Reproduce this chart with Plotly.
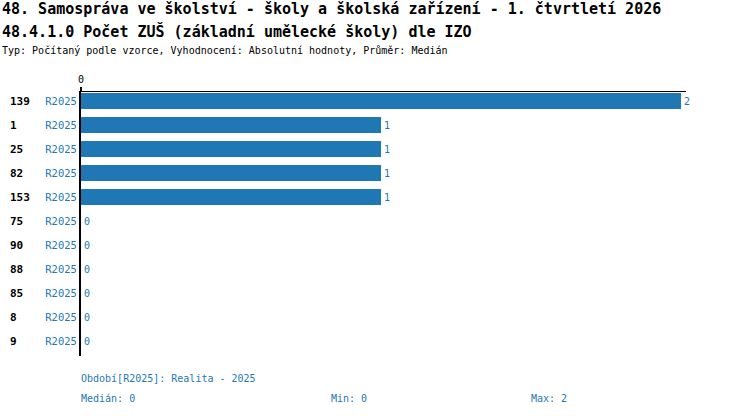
import plotly.graph_objects as go

# Data
izo = ["139", "1", "25", "82", "153", "75", "90", "88", "85", "8", "9"]
obdobi = ["R2025", "R2025", "R2025", "R2025", "R2025", "R2025",
          "R2025", "R2025", "R2025", "R2025", "R2025"]
hodnoty = [2, 1, 1, 1, 1, 0, 0, 0, 0, 0, 0]

nadpis1 = "48. Samospráva ve školství - školy a školská zařízení - 1. čtvrtletí 2026"
nadpis2 = "48.4.1.0 Počet ZUŠ (základní umělecké školy) dle IZO"
podnadpis = "Typ: Počítaný podle vzorce, Vyhodnocení: Absolutní hodnoty, Průměr: Medián"
legenda = "Období[R2025]: Realita - 2025"
median_txt = "Medián: 0"
min_txt = "Min: 0"
max_txt = "Max: 2"

MONO = "DejaVu Sans Mono"
BLUE = "#1f77b4"

# plot area in pixels
L, R, T, B = 81, 686, 92, 356
W, H = 750, 416


def px(x):
    return (x - L) / (R - L)


def py(y):
    return (B - y) / (B - T)


fig = go.Figure()
fig.add_trace(go.Bar(
    x=hodnoty, y=izo, orientation="h",
    marker=dict(color=BLUE, line=dict(width=0)),
    text=[str(v) for v in hodnoty], textposition="outside",
    textfont=dict(family=MONO, size=10, color=BLUE),
    cliponaxis=False, width=0.667,
))

ann = []
for i, lab in enumerate(izo):
    ann.append(dict(x=px(8), y=i, xref="paper", yref="y", text="<b>%s</b>" % lab,
                    showarrow=False, xanchor="left", yanchor="middle",
                    font=dict(family=MONO, size=11, color="black")))

ann += [
    dict(x=px(0), y=py(-2), text="<b>%s</b>" % nadpis1, font=dict(size=15)),
    dict(x=px(0), y=py(20), text="<b>%s</b>" % nadpis2, font=dict(size=15)),
    dict(x=px(0), y=py(43), text=podnadpis, font=dict(size=10)),
    dict(x=px(79), y=py(371), text=legenda, font=dict(size=10, color=BLUE)),
    dict(x=px(79), y=py(391), text=median_txt, font=dict(size=10, color=BLUE)),
    dict(x=px(329), y=py(391), text=min_txt, font=dict(size=10, color=BLUE)),
    dict(x=px(529), y=py(391), text=max_txt, font=dict(size=10, color=BLUE)),
]
for a in ann[len(izo):]:
    a.update(xref="paper", yref="paper", showarrow=False, xanchor="left", yanchor="top")
    a["font"].setdefault("color", "black")
    a["font"]["family"] = MONO

fig.update_layout(
    width=W, height=H,
    margin=dict(l=L, r=W - R, t=T, b=H - B, pad=0, autoexpand=False),
    paper_bgcolor="white", plot_bgcolor="white",
    showlegend=False,
    font=dict(family=MONO, size=10, color="black"),
    annotations=ann,
    xaxis=dict(side="top", range=[0, 2 * (R - L) / 600], showgrid=False, zeroline=False,
               showline=True, linecolor="black", linewidth=1, automargin=False,
               tickvals=[0], ticktext=["0"], ticks="outside", ticklen=4, tickwidth=2,
               tickcolor="black", tickfont=dict(family=MONO, size=10, color="black")),
    yaxis=dict(type="category", range=[10.625, -0.375], showgrid=False, zeroline=False,
               showline=True, linecolor="black", linewidth=2, automargin=False,
               tickvals=izo, ticktext=obdobi, ticks="", ticklabelstandoff=0,
               tickfont=dict(family=MONO, size=10.5, color=BLUE)),
)

# drop the default page margin so the figure sits at the window corner
fig.write_html("out.html", config={"displayModeBar": False},
               post_script="document.body.style.margin='0';")
